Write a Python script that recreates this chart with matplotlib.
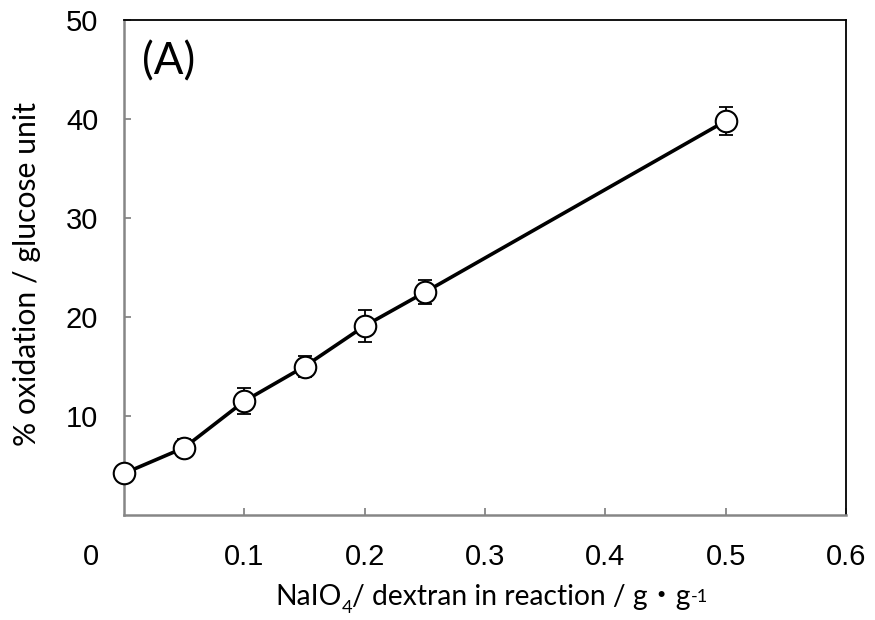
import matplotlib
matplotlib.use("Agg")
import matplotlib.pyplot as plt
from matplotlib.transforms import offset_copy, blended_transform_factory

# data
x_ratio = [0.0, 0.05, 0.10, 0.15, 0.20, 0.25, 0.50]
oxidation = [4.2, 6.8, 11.5, 15.0, 19.1, 22.5, 39.8]
oxidation_err = [0.5, 0.9, 1.3, 1.05, 1.6, 1.2, 1.45]
x_ticks = [0.1, 0.2, 0.3, 0.4, 0.5, 0.6]
x_tick_labels = ["0.1", "0.2", "0.3", "0.4", "0.5", "0.6"]
y_ticks = [10, 20, 30, 40, 50]
y_tick_labels = ["10", "20", "30", "40", "50"]

W, H = 875, 620
fig = plt.figure(figsize=(W / 100, H / 100), dpi=100)
ax = fig.add_axes([124 / W, 1 - 515 / H, (846 - 124) / W, (515 - 20) / H])

ax.errorbar(x_ratio, oxidation, yerr=oxidation_err, fmt="none", ecolor="black",
            elinewidth=1.3, capsize=5, capthick=1.3, zorder=2)
ax.plot(x_ratio, oxidation, color="black", linewidth=2.6, marker="o",
        markersize=15.5, markerfacecolor="white", markeredgecolor="black",
        markeredgewidth=1.5, zorder=3, clip_on=False)

ax.set_xlim(0, 0.6)
ax.set_ylim(0, 50)

gray = "#868686"
for s in ("left", "bottom"):
    ax.spines[s].set_color(gray)
    ax.spines[s].set_linewidth(1.8)
for s in ("top", "right"):
    ax.spines[s].set_color("black")
    ax.spines[s].set_linewidth(1.3)

tick_font = {"family": "Liberation Sans", "size": 21}
ax.set_xticks(x_ticks)
ax.set_xticklabels(x_tick_labels, fontdict=tick_font)
ax.set_yticks(y_ticks)
ax.set_yticklabels(y_tick_labels, fontdict=tick_font)
ax.tick_params(axis="both", direction="in", length=5, width=1.3, color=gray)
ax.tick_params(axis="x", pad=20)
ax.tick_params(axis="y", pad=18.5)

# lone "0" label at lower left
trans = blended_transform_factory(ax.transData, ax.transAxes)
trans0 = offset_copy(trans, fig=fig, x=-33, y=-42, units="dots")
ax.text(0, 0, "0", transform=trans0, ha="center", va="center", **tick_font)

lab_fam = ["Lato", "Noto Sans CJK JP", "DejaVu Sans"]

# panel label
panel = fig.text(142 / W, 1 - 62 / H, "(A)", ha="left", va="center",
                 fontsize=30, family=lab_fam)

# y label
ylab = fig.text(27 / W, 1 - 274 / H, "% oxidation / glucose unit", rotation=90,
                ha="center", va="center", fontsize=17, family=lab_fam)


def build_xlabel(fs):
    t1 = fig.text(275 / W, 1 - 605 / H, "NaIO", fontsize=fs, family=lab_fam,
                  ha="left", va="baseline")
    t2 = ax.annotate("4", xy=(1, 0), xycoords=t1, xytext=(0.3, -fs * 0.22),
                     textcoords="offset points", fontsize=fs * 0.65, family=lab_fam,
                     ha="left", va="bottom", annotation_clip=False)
    t3 = ax.annotate("/ dextran in reaction / g・g", xy=(1, 0), xycoords=t2,
                     xytext=(0, fs * 0.22), textcoords="offset points", fontsize=fs,
                     family=lab_fam, ha="left", va="bottom", annotation_clip=False)
    t4 = ax.annotate("-1", xy=(1, 1), xycoords=t3, xytext=(0.3, -fs * 0.17),
                     textcoords="offset points", fontsize=fs * 0.65, family=lab_fam,
                     ha="left", va="top", annotation_clip=False)
    return [t1, t2, t3, t4]


# fit text sizes to the reference extents
fig.canvas.draw()
r = fig.canvas.get_renderer()
h = ylab.get_window_extent(r).height
ylab.set_fontsize(17 * 343 / h)
w = panel.get_window_extent(r).width
panel.set_fontsize(30 * 53 / w)

pieces = build_xlabel(17)
fig.canvas.draw()
x0 = pieces[0].get_window_extent(r).x0
x1 = pieces[-1].get_window_extent(r).x1
fs_x = 17 * 433 / (x1 - x0)
for p in pieces:
    p.remove()
build_xlabel(fs_x)

fig.savefig("out.png", dpi=100)
